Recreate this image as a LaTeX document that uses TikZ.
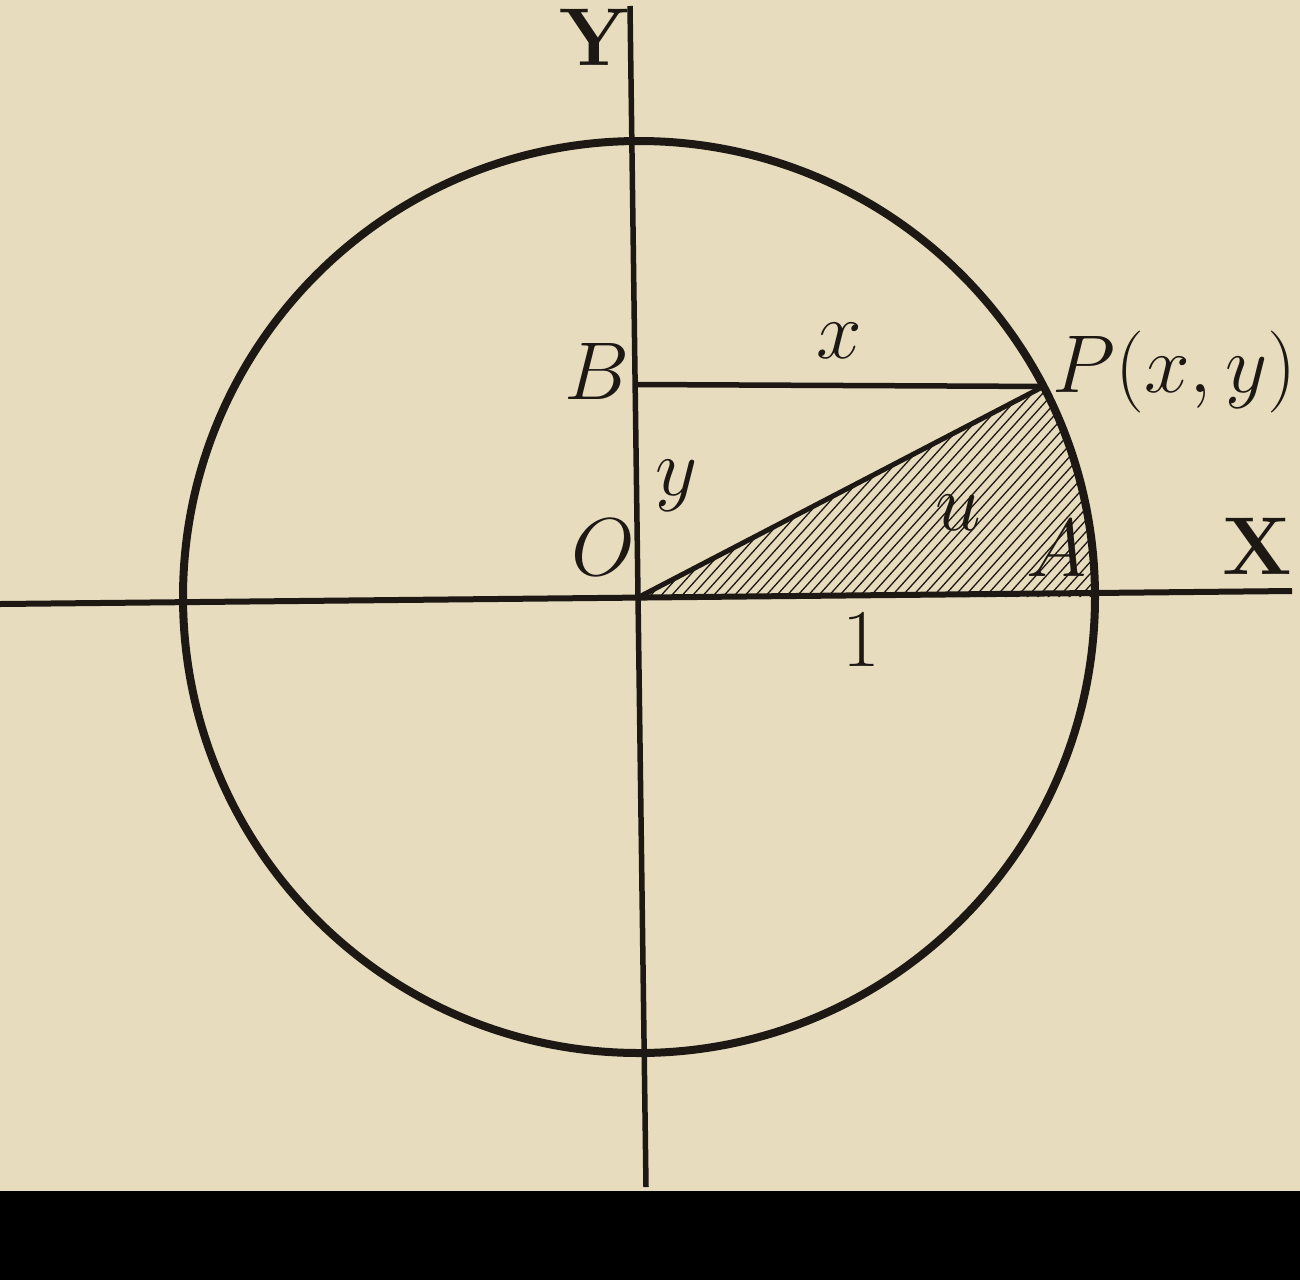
\RequirePackage{fix-cm}
\documentclass[tikz,border=0pt]{standalone}
\usetikzlibrary{calc}
\definecolor{paper}{RGB}{231,221,190}
\definecolor{ink}{RGB}{30,24,20}
\tikzset{
  axis/.style={draw=ink, line width=6pt},
  curve/.style={draw=ink, line width=8pt},
  seg/.style={draw=ink, line width=5.5pt},
  hatch/.style={draw=ink, line width=1.3pt},
  lbl/.style={text=ink, inner sep=0pt, font=\fontsize{82}{90}\selectfont},
  axlbl/.style={lbl, font=\fontsize{82}{90}\selectfont\bfseries},
}
\begin{document}
\begin{tikzpicture}[x=1pt, y=-1pt]
  \fill[paper] (0,0) rectangle (1300,1191);
  \fill[black] (0,1191) rectangle (1300,1280);
  \useasboundingbox (0,0) rectangle (1300,1280);
  \clip (0,0) rectangle (1300,1280);
  % points
  \coordinate (O) at (639,597);
  \coordinate (P) at ($(O)+(-27.5:456)$);
  \coordinate (A) at (1095,593);
  \coordinate (B) at (637,384.5);
  \coordinate (Ytop) at (630,6);
  \coordinate (Ybot) at (646,1187);
  \coordinate (Xl) at (0,604);
  \coordinate (Xr) at (1292,591);
  % hatched sector
  \begin{scope}
    \clip (O) -- (P) arc[start angle=-27.5, end angle=0, radius=456] -- cycle;
    \foreach \i in {0,...,80} {
      \draw[hatch] (300+10.5*\i,600) -- ++(300,-333);
    }
  \end{scope}
  % circle and axes
  \draw[curve] (O) circle[radius=456];
  \draw[axis, line width=5.5pt] (Ytop) -- (Ybot);
  \draw[axis] (Xl) -- (Xr);
  \draw[seg] (B) -- (P);
  \draw[seg, line width=5pt] (O) -- (P);
  % labels
  \node[axlbl] (lY) at (594,37) {Y};
  \node[axlbl] (lX) at (1257,546) {X};
  \node[lbl] (lB) at (597,371) {$B$};
  \node[lbl] (lx) at (839,341) {$x$};
  \node[lbl] (ly) at (677,486) {$y$};
  \node[lbl] (lO) at (603,547) {$O$};
  \node[lbl] (lu) at (958,513) {$u$};
  \node[lbl] (lA) at (1057,548) {$A$};
  \node[lbl] (l1) at (861,640) {$1$};
  \node[lbl, anchor=base east] (lP) at (1297,392) {$P(x,y)$};
\end{tikzpicture}
\end{document}
